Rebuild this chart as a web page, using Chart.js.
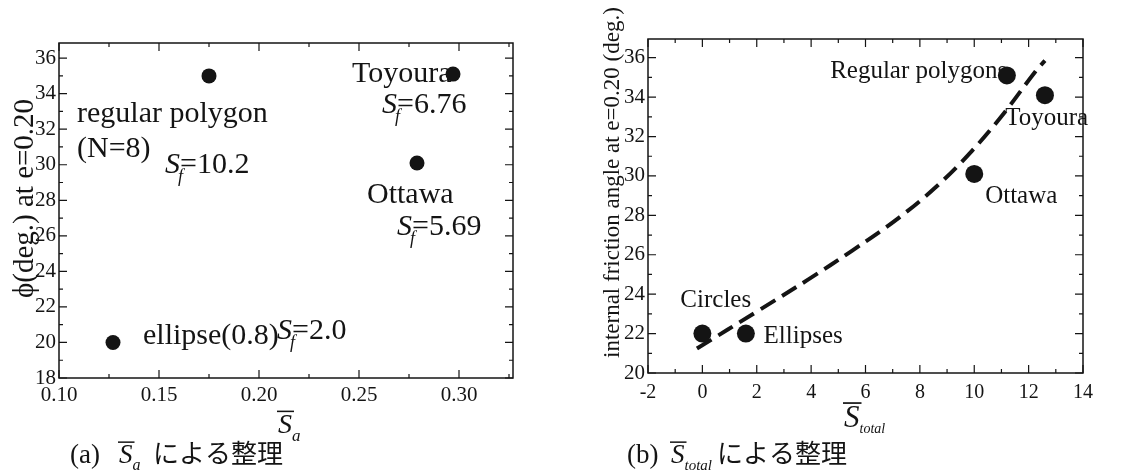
<!DOCTYPE html>
<html>
<head>
<meta charset="utf-8">
<script src="https://cdn.jsdelivr.net/npm/chart.js@4.4.1/dist/chart.umd.min.js"></script>
<style>
  body { margin: 0; background: #fff; }
  #wrap { position: relative; width: 1121px; height: 474px; }
  canvas { position: absolute; top: 0; }
</style>
</head>
<body>
<div id="wrap">
  <canvas id="chartA" width="560" height="474" style="left:0px"></canvas>
  <canvas id="chartB" width="561" height="474" style="left:560px"></canvas>
</div>
<script>
// (a) friction angle vs mean S_a  (ellipse, regular polygon, Ottawa, Toyoura)
const saValues = [0.127, 0.175, 0.279, 0.297];
const phiA = [20.0, 35.0, 30.1, 35.1];
const xTicksA = [0.10, 0.15, 0.20, 0.25, 0.30];
const yTicksA = [18, 20, 22, 24, 26, 28, 30, 32, 34, 36];

// (b) friction angle vs mean S_total  (circles, ellipses, Ottawa, regular polygons, Toyoura)
const stotalValues = [0.0, 1.6, 10.0, 11.2, 12.6];
const phiB = [22.0, 22.0, 30.1, 35.1, 34.1];
const xTicksB = [-2, 0, 2, 4, 6, 8, 10, 12, 14];
const yTicksB = [20, 22, 24, 26, 28, 30, 32, 34, 36];

// dashed trend line in (b)
const fitX = [-0.2, 2.1, 3.9, 5.5, 7.2, 8.6, 9.9, 11.1, 12.25, 12.6];
const fitY = [21.24, 23.2, 24.75, 26.2, 27.85, 29.45, 31.25, 33.2, 35.3, 35.85];

// text notes placed in data units
const notesA = [
  { t: 'Toyoura', x: 0.2465, y: 34.65 },
  { sf: '6.76', x: 0.2615, y: 32.9 },
  { t: 'regular polygon', x: 0.109, y: 32.4 },
  { t: '(N=8)', x: 0.109, y: 30.42 },
  { sf: '10.2', x: 0.153, y: 29.52 },
  { t: 'Ottawa', x: 0.254, y: 27.83 },
  { sf: '5.69', x: 0.269, y: 26.03 },
  { t: 'ellipse(0.8)', x: 0.142, y: 19.94 },
  { sf: '2.0', x: 0.209, y: 20.2 }
];
const notesB = [
  { t: 'Regular polygons', x: 4.70, y: 34.98 },
  { t: 'Toyoura', x: 11.14, y: 32.6 },
  { t: 'Ottawa', x: 10.4, y: 28.64 },
  { t: 'Circles', x: -0.81, y: 23.36 },
  { t: 'Ellipses', x: 2.25, y: 21.53 }
];

const SERIF = "'Liberation Serif', 'DejaVu Serif', serif";
const CJK = "'Noto Sans CJK JP', sans-serif";
const INK = '#141414';

function toPoints(xs, ys) {
  return xs.map((x, i) => ({ x: x, y: ys[i] }));
}

function drawSf(ctx, x, y, val, size) {
  ctx.font = 'italic ' + size + 'px ' + SERIF;
  ctx.fillText('S', x, y);
  const w = ctx.measureText('S').width;
  ctx.font = 'italic ' + Math.round(size * 0.6) + 'px ' + SERIF;
  ctx.fillText('f', x + w - 2, y + size * 0.3);
  ctx.font = size + 'px ' + SERIF;
  ctx.fillText('=' + val, x + w, y);
}

function drawSbar(ctx, x, y, sub, size, subSize) {
  ctx.font = 'italic ' + size + 'px ' + SERIF;
  ctx.fillText('S', x, y);
  const w = ctx.measureText('S').width;
  ctx.fillRect(x - 1, y - size * 0.8, w + 3, Math.max(1.2, size * 0.055));
  ctx.font = 'italic ' + subSize + 'px ' + SERIF;
  ctx.fillText(sub, x + w, y + subSize * 0.45);
}

// box round the plot and inward ticks on all four sides
function drawFrame(chart, minorX, minorY) {
  const ctx = chart.ctx;
  const a = chart.chartArea;
  const xs = chart.scales.x, ys = chart.scales.y;
  ctx.save();
  ctx.strokeStyle = INK;
  ctx.lineWidth = 1.5;
  ctx.strokeRect(a.left, a.top, a.right - a.left, a.bottom - a.top);
  ctx.lineWidth = 1.2;
  ctx.beginPath();
  let start = Math.ceil(xs.min / minorX - 1e-6);
  for (let k = start; k * minorX <= xs.max + 1e-9; k++) {
    const v = k * minorX;
    const major = Math.abs(v / (minorX * 2) - Math.round(v / (minorX * 2))) < 1e-6;
    const len = major ? 8 : 4;
    const px = xs.getPixelForValue(v);
    ctx.moveTo(px, a.bottom); ctx.lineTo(px, a.bottom - len);
    ctx.moveTo(px, a.top); ctx.lineTo(px, a.top + len);
  }
  start = Math.ceil(ys.min / minorY - 1e-6);
  for (let k = start; k * minorY <= ys.max + 1e-9; k++) {
    const v = k * minorY;
    const major = Math.abs(v / (minorY * 2) - Math.round(v / (minorY * 2))) < 1e-6;
    const len = major ? 8 : 4;
    const py = ys.getPixelForValue(v);
    ctx.moveTo(a.left, py); ctx.lineTo(a.left + len, py);
    ctx.moveTo(a.right, py); ctx.lineTo(a.right - len, py);
  }
  ctx.stroke();
  ctx.restore();
}

function drawNotes(chart, notes, size) {
  const ctx = chart.ctx;
  ctx.save();
  ctx.fillStyle = INK;
  ctx.textBaseline = 'alphabetic';
  ctx.textAlign = 'left';
  notes.forEach(n => {
    const px = chart.scales.x.getPixelForValue(n.x);
    const py = chart.scales.y.getPixelForValue(n.y);
    if (n.sf) {
      drawSf(ctx, px, py, n.sf, size);
    } else {
      ctx.font = size + 'px ' + SERIF;
      ctx.fillText(n.t, px, py);
    }
  });
  ctx.restore();
}

function makeAxis(min, max, tickList, fmt, size, pad, fit) {
  return {
    type: 'linear',
    min: min,
    max: max,
    afterBuildTicks: s => { s.ticks = tickList.map(v => ({ value: v })); },
    afterFit: fit,
    grid: { display: false, drawTicks: false },
    border: { display: false },
    ticks: {
      color: INK,
      font: { family: SERIF, size: size },
      padding: pad,
      maxRotation: 0,
      autoSkip: false,
      callback: v => fmt(v)
    }
  };
}

const decorA = {
  id: 'decorA',
  beforeDatasetsDraw(chart) { drawNotes(chart, notesA, 30); },
  afterDraw(chart) {
    drawFrame(chart, 0.025, 1);
    const ctx = chart.ctx;
    ctx.save();
    ctx.fillStyle = INK;
    // y title
    ctx.translate(25, 298);
    ctx.rotate(-Math.PI / 2);
    ctx.font = '29px ' + SERIF;
    ctx.textBaseline = 'middle';
    ctx.fillText('\u03D5(deg.) at e=0.20', 0, 0);
    ctx.setTransform(1, 0, 0, 1, 0, 0);
    ctx.textBaseline = 'alphabetic';
    // x title
    drawSbar(ctx, 278, 433, 'a', 28, 17);
    // caption
    ctx.font = '27px ' + SERIF;
    ctx.fillText('(a)', 70, 463);
    drawSbar(ctx, 119, 463, 'a', 27, 16);
    ctx.font = '26px ' + CJK;
    ctx.fillText('による整理', 153, 463);
    ctx.restore();
  }
};

const decorB = {
  id: 'decorB',
  beforeDatasetsDraw(chart) { drawNotes(chart, notesB, 25); },
  afterDraw(chart) {
    drawFrame(chart, 1, 1);
    const ctx = chart.ctx;
    ctx.save();
    ctx.fillStyle = INK;
    ctx.translate(53, 358);
    ctx.rotate(-Math.PI / 2);
    ctx.font = '23px ' + SERIF;
    ctx.textBaseline = 'middle';
    ctx.fillText('internal friction angle at e=0.20 (deg.)', 0, 0);
    ctx.setTransform(1, 0, 0, 1, 0, 0);
    ctx.textBaseline = 'alphabetic';
    drawSbar(ctx, 284, 427, 'total', 31, 14);
    ctx.font = '27px ' + SERIF;
    ctx.fillText('(b)', 67, 463);
    drawSbar(ctx, 111, 463, 'total', 27, 15);
    ctx.font = '26px ' + CJK;
    ctx.fillText('による整理', 157, 463);
    ctx.restore();
  }
};

new Chart(document.getElementById('chartA'), {
  type: 'scatter',
  data: {
    datasets: [{
      data: toPoints(saValues, phiA),
      backgroundColor: INK,
      borderWidth: 0,
      pointRadius: 7.5,
      pointHoverRadius: 7.5
    }]
  },
  options: {
    responsive: false,
    animation: false,
    layout: { padding: { left: 14, right: 47, top: 43, bottom: 60 } },
    plugins: { legend: { display: false }, tooltip: { enabled: false } },
    scales: {
      x: makeAxis(0.1, 0.327, xTicksA, v => v.toFixed(2), 21, 5, s => { s.height = 36; }),
      y: makeAxis(18, 36.85, yTicksA, v => String(v), 21, 3, s => { s.width = 45; })
    }
  },
  plugins: [decorA]
});

new Chart(document.getElementById('chartB'), {
  type: 'scatter',
  data: {
    datasets: [{
      data: toPoints(stotalValues, phiB),
      backgroundColor: INK,
      borderWidth: 0,
      pointRadius: 9,
      pointHoverRadius: 9,
      order: 0
    }, {
      data: toPoints(fitX, fitY),
      showLine: true,
      borderColor: INK,
      borderWidth: 4,
      borderDash: [17, 8],
      pointRadius: 0,
      tension: 0.4,
      order: 1
    }]
  },
  options: {
    responsive: false,
    animation: false,
    layout: { padding: { left: 48, right: 38, top: 39, bottom: 65 } },
    plugins: { legend: { display: false }, tooltip: { enabled: false } },
    scales: {
      x: makeAxis(-2, 14, xTicksB, v => String(v), 20, 8, s => { s.height = 36; }),
      y: makeAxis(20, 36.95, yTicksB, v => String(v), 21, 3, s => { s.width = 40; })
    }
  },
  plugins: [decorB]
});
</script>
</body>
</html>
